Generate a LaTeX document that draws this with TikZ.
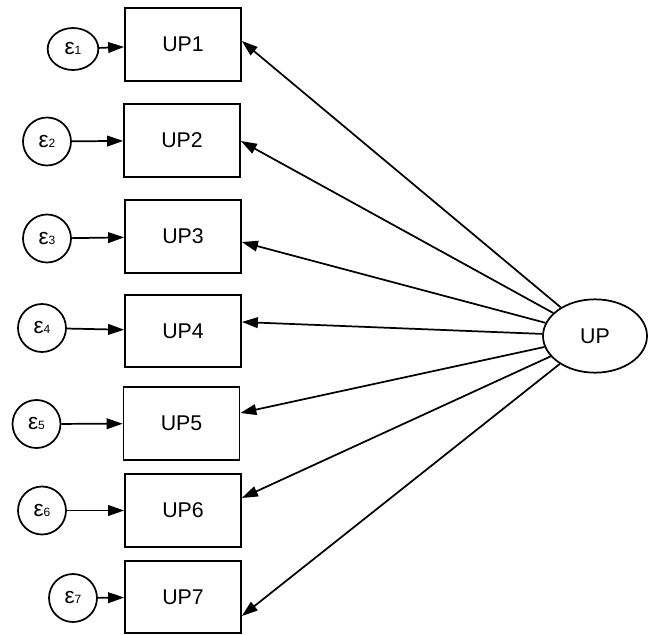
\documentclass[tikz,border=0pt]{standalone}
\usepackage{fontspec}
\setmainfont{Liberation Sans}
\usetikzlibrary{arrows.meta,shapes.geometric}
\tikzset{
  item/.style={draw,line width=1.3pt,minimum width=87pt,minimum height=54.5pt,
    inner sep=0pt,font=\fontsize{16}{18}\selectfont},
  err/.style={draw,ellipse,line width=1.3pt,minimum width=36pt,minimum height=36pt,
    inner sep=0pt},
  factor/.style={draw,ellipse,line width=1.3pt,minimum width=78pt,minimum height=55pt,
    inner sep=0pt,font=\fontsize{16}{18}\selectfont},
  load/.style={-{Triangle[length=12pt,width=8pt]},line width=1.3pt}
}
\newcommand{\errlabel}[1]{{\fontsize{17}{17}\selectfont ε}{\fontsize{9}{9}\selectfont #1}}

\begin{document}
\begin{tikzpicture}[x=0.75pt,y=-0.75pt]
  \useasboundingbox (0,0) rectangle (648,634);
  % indicators
  \node[item] (UP1) at (183,44.5) {UP1};
  \node[item] (UP2) at (182,140.5) {UP2};
  \node[item] (UP3) at (183,236.5) {UP3};
  \node[item] (UP4) at (183,331) {UP4};
  \node[item] (UP5) at (181.5,423.5) {UP5};
  \node[item] (UP6) at (183,510.5) {UP6};
  \node[item] (UP7) at (183,597) {UP7};
  % error terms
  \node[err,minimum width=38pt,minimum height=31.5pt] (e1) at (73,49) {\errlabel{1}};
  \node[err] (e2) at (47,141.5) {\errlabel{2}};
  \node[err] (e3) at (47,238.5) {\errlabel{3}};
  \node[err] (e4) at (42,328) {\errlabel{4}};
  \node[err] (e5) at (36.5,424) {\errlabel{5}};
  \node[err] (e6) at (42,510.5) {\errlabel{6}};
  \node[err] (e7) at (73,598) {\errlabel{7}};
  % latent factor
  \node[factor] (UP) at (595,336) {UP};
  % where the loadings meet the boxes
  \coordinate (t1) at (UP1.east |- 0,41);
  \coordinate (t2) at (UP2.east |- 0,141);
  \coordinate (t3) at (UP3.east |- 0,242);
  \coordinate (t4) at (UP4.east |- 0,322);
  \coordinate (t5) at (UP5.east |- 0,413);
  \coordinate (t6) at (UP6.east |- 0,498);
  \coordinate (t7) at (UP7.east |- 0,616);
  \draw[load] (UP) -- (t1);
  \draw[load] (UP) -- (t2);
  \draw[load] (UP) -- (t3);
  \draw[load] (UP) -- (t4);
  \draw[load] (UP) -- (t5);
  \draw[load] (UP) -- (t6);
  \draw[load] (UP) -- (t7);
  \draw[load] (e1) -- (UP1);
  \draw[load] (e2) -- (UP2);
  \draw[load] (e3) -- (UP3);
  \draw[load] (e4) -- (UP4);
  \draw[load] (e5) -- (UP5);
  \draw[load] (e6) -- (UP6);
  \draw[load] (e7) -- (UP7);
\end{tikzpicture}
\end{document}
